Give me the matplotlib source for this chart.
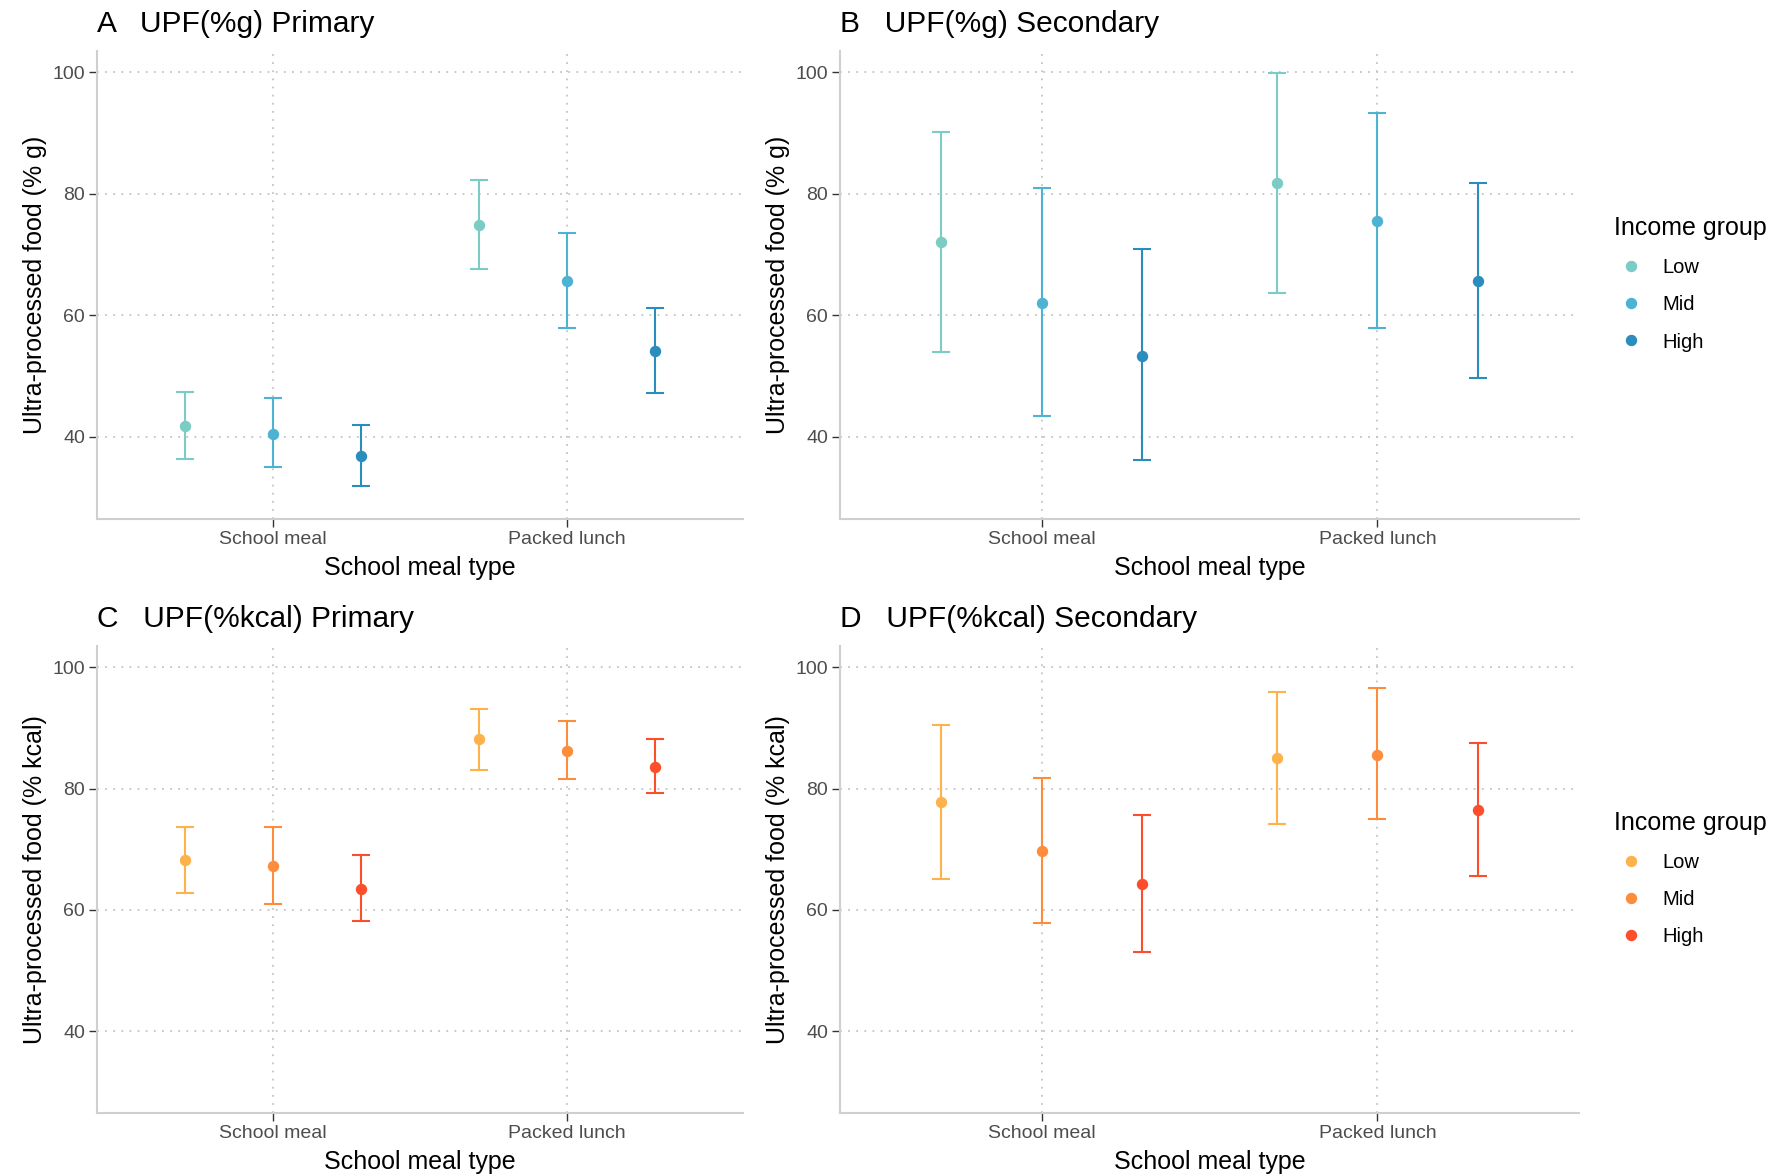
import numpy as np
import matplotlib
matplotlib.use("Agg")
import matplotlib.pyplot as plt
from matplotlib.lines import Line2D

plt.rcParams['font.family'] = ['Liberation Sans', 'DejaVu Sans']

meal_types = ["School meal", "Packed lunch"]
income_groups = ["Low", "Mid", "High"]

# mean, lower, upper per income group -> [School meal, Packed lunch]
g_pri_mean = {"Low": [41.8, 74.9], "Mid": [40.5, 65.6], "High": [36.8, 54.2]}
g_pri_low = {"Low": [36.3, 67.7], "Mid": [35.0, 57.9], "High": [31.9, 47.3]}
g_pri_up = {"Low": [47.4, 82.2], "Mid": [46.4, 73.6], "High": [41.9, 61.2]}

g_sec_mean = {"Low": [72.0, 81.7], "Mid": [62.0, 75.6], "High": [53.4, 65.6]}
g_sec_low = {"Low": [54.0, 63.7], "Mid": [43.4, 58.0], "High": [36.2, 49.7]}
g_sec_up = {"Low": [90.1, 99.8], "Mid": [80.9, 93.3], "High": [70.9, 81.7]}

k_pri_mean = {"Low": [68.2, 88.1], "Mid": [67.2, 86.2], "High": [63.4, 83.6]}
k_pri_low = {"Low": [62.8, 83.1], "Mid": [61.0, 81.5], "High": [58.1, 79.2]}
k_pri_up = {"Low": [73.7, 93.1], "Mid": [73.7, 91.1], "High": [69.0, 88.1]}

k_sec_mean = {"Low": [77.8, 85.1], "Mid": [69.7, 85.6], "High": [64.2, 76.4]}
k_sec_low = {"Low": [65.1, 74.2], "Mid": [57.8, 74.9], "High": [53.0, 65.5]}
k_sec_up = {"Low": [90.5, 95.9], "Mid": [81.7, 96.6], "High": [75.6, 87.5]}

blues = {"Low": "#7bccc4", "Mid": "#4eb3d3", "High": "#2b8cbe"}
oranges = {"Low": "#feb24c", "Mid": "#fd8d3c", "High": "#fc4e2a"}

W, H = 1791, 1176
fig = plt.figure(figsize=(W / 100, H / 100), dpi=100)


def px_axes(left, right, top, bottom):
    return fig.add_axes([left / W, 1 - bottom / H, (right - left) / W, (bottom - top) / H])


def draw_panel(ax, mean, low, up, colors, ylabel, title, title_y):
    x = np.arange(len(meal_types))
    offsets = np.array([-0.3, 0.0, 0.3])
    for off, grp in zip(offsets, income_groups):
        m = np.array(mean[grp])
        lo = np.array(low[grp])
        hi = np.array(up[grp])
        ax.errorbar(x + off, m, yerr=[m - lo, hi - m], fmt='o', color=colors[grp],
                    ms=7.2, elinewidth=1.5, capsize=6.5, capthick=1.5, zorder=3)
    ax.set_xlim(-0.6, 1.6)
    ax.set_ylim(26.5, 103.5)
    ax.set_xticks(x)
    ax.set_xticklabels(meal_types)
    ax.set_yticks([40, 60, 80, 100])
    ax.grid(True, color='#c4c4c4', linestyle=(0, (1, 3.5)), linewidth=1.3, zorder=0)
    ax.set_axisbelow(True)
    for s in ['top', 'right']:
        ax.spines[s].set_visible(False)
    for s in ['left', 'bottom']:
        ax.spines[s].set_color('#cfcfcf')
        ax.spines[s].set_linewidth(1.5)
    ax.tick_params(axis='both', labelsize=14, labelcolor='#4d4d4d', color='#333333',
                   length=5.5, width=1.0, pad=3)
    ax.set_xlabel("School meal type", fontsize=18, labelpad=6)
    ax.set_ylabel(ylabel, fontsize=18, labelpad=4)
    pos = ax.get_position()
    fig.text(pos.x0, title_y, title, fontsize=21.5, ha='left', va='center')


axA = px_axes(97, 743, 51, 519)
axB = px_axes(840, 1579, 51, 519)
axC = px_axes(97, 743, 646, 1113)
axD = px_axes(840, 1579, 646, 1113)

draw_panel(axA, g_pri_mean, g_pri_low, g_pri_up, blues, "Ultra-processed food (% g)",
           "A   UPF(%g) Primary", 1 - 24 / H)
draw_panel(axB, g_sec_mean, g_sec_low, g_sec_up, blues, "Ultra-processed food (% g)",
           "B   UPF(%g) Secondary", 1 - 24 / H)
draw_panel(axC, k_pri_mean, k_pri_low, k_pri_up, oranges, "Ultra-processed food (% kcal)",
           "C   UPF(%kcal) Primary", 1 - 619 / H)
draw_panel(axD, k_sec_mean, k_sec_low, k_sec_up, oranges, "Ultra-processed food (% kcal)",
           "D   UPF(%kcal) Secondary", 1 - 619 / H)


def add_legend(colors, top_px):
    handles = [Line2D([], [], marker='o', linestyle='none', color=colors[g], ms=7.2)
               for g in income_groups]
    fig.legend(handles, income_groups, title="Income group", loc='upper left',
               bbox_to_anchor=(1596 / W, 1 - top_px / H), frameon=False,
               fontsize=14.5, title_fontsize=18, alignment='left',
               handlelength=1.7, handletextpad=0.7, labelspacing=0.9)


add_legend(blues, 198)
add_legend(oranges, 793)

fig.savefig("out.png", dpi=100)
